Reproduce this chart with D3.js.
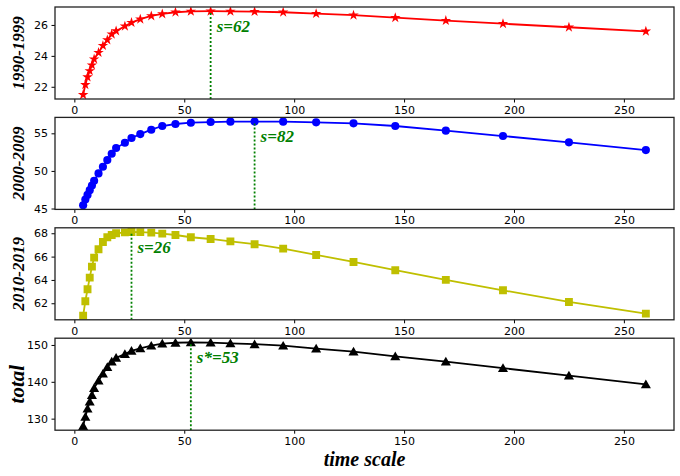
<!DOCTYPE html>
<html lang="en">
<head>
	<meta charset="utf-8">
	<script src="https://d3js.org/d3.v7.min.js"></script>
	<style>
		body { margin: 0; background: #fff; }
		.tick text { font-family: "DejaVu Sans", sans-serif; font-size: 11px; fill: #000; }
		.lab { font-family: "Liberation Serif", "Times New Roman", serif; font-weight: bold; font-style: italic; }
	</style>
</head>
<body>
	<script type="text/javascript">

		// time scale values (x) shared by all panels
		var scales = [4,5,6,7,8,9,11,13,15,17,19,23,26,30,35,40,46,53,62,71,82,95,110,127,146,169,195,225,260];

		var vals1990 = [21.48,22.13,22.63,23.03,23.40,23.79,24.21,24.66,25.03,25.40,25.61,25.92,26.15,26.37,26.58,26.71,26.82,26.88,26.89,26.88,26.86,26.82,26.73,26.63,26.47,26.28,26.08,25.85,25.59];
		var vals2000 = [45.44,46.20,46.81,47.44,48.06,48.68,49.67,50.55,51.44,52.28,53.04,53.75,54.37,54.90,55.48,55.97,56.24,56.41,56.50,56.55,56.56,56.55,56.46,56.33,55.97,55.35,54.64,53.80,52.77];
		var vals2010 = [60.94,62.17,63.20,64.20,65.14,65.91,66.63,67.25,67.66,67.85,68.00,68.08,68.11,68.10,68.05,67.97,67.85,67.66,67.51,67.31,67.06,66.68,66.14,65.54,64.83,64.00,63.11,62.11,61.11];
		var valsTotal = [128.0,130.5,132.7,134.6,136.4,138.3,140.3,142.2,144.0,145.5,146.5,147.5,148.4,149.1,149.8,150.35,150.6,150.7,150.65,150.45,150.2,149.8,149.0,148.2,146.9,145.5,143.7,141.7,139.3];

		var panelNames = ["1990-1999", "2000-2009", "2010-2019", "total"];
		var bestScale = [62, 82, 26, 53];
		var bestLabel = ["s=62", "s=82", "s=26", "s*=53"];
		var xTicks = [0,50,100,150,200,250];
		var yTicks = [[22,24,26], [45,50,55], [62,64,66,68], [130,140,150]];

		var series = [vals1990, vals2000, vals2010, valsTotal];
		var colors = ["#ff0000", "#0000ff", "#bfbf00", "#000000"];
		var symbols = [d3.symbolStar, d3.symbolCircle, d3.symbolSquare, d3.symbolTriangle];
		var symSizes = [34, 52, 62, 44];

		var svgWidth = 680, svgHeight = 476;
		var left = 55, right = 674;
		var panelH = 92, panelStep = 110.4, firstTop = 7;

		var svg = d3.select("body")
			.append("svg")
			.attr("width", svgWidth)
			.attr("height", svgHeight);

		// x domain with matplotlib-like 5% margins
		var xmin = d3.min(scales), xmax = d3.max(scales), xpad = (xmax - xmin) * 0.05;
		var x = d3.scaleLinear()
			.domain([xmin - xpad, xmax + xpad])
			.range([left, right]);

		series.forEach(function(vals, p) {
			var top = firstTop + p * panelStep;
			var bottom = top + panelH;
			var ymin = d3.min(vals), ymax = d3.max(vals), ypad = (ymax - ymin) * 0.05;
			var y = d3.scaleLinear()
				.domain([ymin - ypad, ymax + ypad])
				.range([bottom, top]);

			var g = svg.append("g");

			g.append("clipPath")
				.attr("id", "clip" + p)
				.append("rect")
					.attr("x", left).attr("y", top)
					.attr("width", right - left).attr("height", panelH);

			var plot = g.append("g").attr("clip-path", "url(#clip" + p + ")");

			// line
			plot.append("path")
				.datum(scales)
				.attr("fill", "none")
				.attr("stroke", colors[p])
				.attr("stroke-width", 1.8)
				.attr("d", d3.line()
					.x(function(d) { return x(d); })
					.y(function(d, i) { return y(vals[i]); }));

			// markers
			plot.selectAll("path.mk")
				.data(scales)
				.enter()
				.append("path")
					.attr("class", "mk")
					.attr("fill", colors[p])
					.attr("transform", function(d, i) {
						var dy = symbols[p] === d3.symbolTriangle ? 1 : 0;
						return "translate(" + x(d) + "," + (y(vals[i]) + dy) + ")";
					})
					.attr("d", d3.symbol().type(symbols[p]).size(symSizes[p]));

			// dotted marker at optimal scale
			var si = scales.indexOf(bestScale[p]);
			plot.append("line")
				.attr("x1", x(bestScale[p])).attr("x2", x(bestScale[p]))
				.attr("y1", bottom).attr("y2", y(vals[si]))
				.attr("stroke", "#008000")
				.attr("stroke-width", 1.8)
				.attr("stroke-dasharray", "2,2");

			g.append("text")
				.attr("class", "lab")
				.attr("x", x(bestScale[p]) + 6)
				.attr("y", top + 25)
				.attr("fill", "#008000")
				.style("font-size", "17px")
				.text(bestLabel[p]);

			// axes
			var xAxis = d3.axisBottom(x).tickValues(xTicks).tickSize(3.5).tickPadding(3.5).tickFormat(d3.format("d"));
			g.append("g")
				.attr("transform", "translate(0," + bottom + ")")
				.call(xAxis)
				.call(function(s) { s.select(".domain").remove(); });

			var yAxis = d3.axisLeft(y).tickValues(yTicks[p]).tickSize(3.5).tickPadding(3.5).tickFormat(d3.format("d"));
			g.append("g")
				.attr("transform", "translate(" + left + ",0)")
				.call(yAxis)
				.call(function(s) { s.select(".domain").remove(); });

			// frame
			g.append("rect")
				.attr("x", left).attr("y", top)
				.attr("width", right - left).attr("height", panelH)
				.attr("fill", "none")
				.attr("stroke", "#222")
				.attr("stroke-width", 1.3);

			// y label
			g.append("text")
				.attr("class", "lab")
				.attr("transform", "translate(24," + (top + panelH / 2) + ") rotate(-90)")
				.attr("text-anchor", "middle")
				.style("font-size", p === 3 ? "21px" : "17px")
				.text(panelNames[p]);
		});

		svg.append("text")
			.attr("class", "lab")
			.attr("x", (left + right) / 2)
			.attr("y", 466)
			.attr("text-anchor", "middle")
			.style("font-size", "20px")
			.text("time scale");

	</script>
</body>
</html>
